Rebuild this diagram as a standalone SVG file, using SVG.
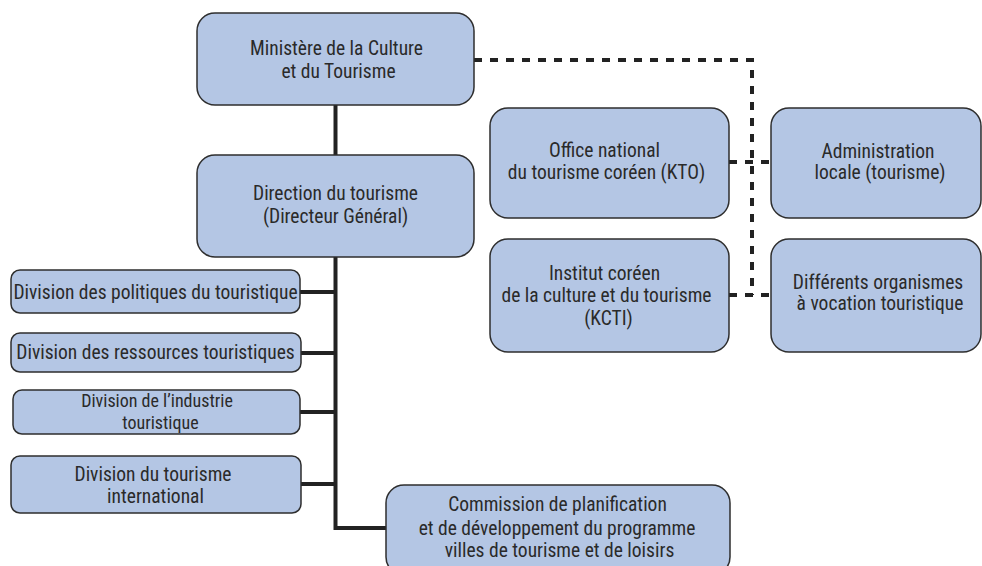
<svg xmlns="http://www.w3.org/2000/svg" width="982" height="566" viewBox="0 0 982 566">
  <style>
    .box { fill: #b4c6e4; stroke: #2e2e2e; stroke-width: 1.5; }
    .lbl { font-family: "Liberation Sans Narrow", "Roboto Condensed", "DejaVu Sans Condensed", "Liberation Sans", sans-serif; font-size: 19.5px; fill: #2a2a2a; text-anchor: middle; }
    .tight { font-size: 18px; }
    .solid { fill: none; stroke: #222; stroke-width: 4; }
    .dash { fill: none; stroke: #222; stroke-width: 4; stroke-dasharray: 8 8; }
  </style>
  <rect width="982" height="566" fill="#ffffff"/>

  <!-- connectors -->
  <g id="connectors">
    <path class="solid" d="M335.5 105 V155"/>
    <path class="solid" d="M335.5 257 V528 H386"/>
    <path class="solid" d="M300 292 H335.5"/>
    <path class="solid" d="M301 353 H335.5"/>
    <path class="solid" d="M300 412 H335.5"/>
    <path class="solid" d="M301 484 H335.5"/>
    <path class="dash" d="M474 60 H752 V295"/>
    <path class="dash" d="M729 162 H771"/>
    <path class="dash" d="M729 295 H771"/>
  </g>

  <!-- nodes -->
  <g id="ministere">
    <rect class="box" x="197" y="13" width="277" height="92" rx="18"/>
    <text class="lbl" x="336.5" y="55">Ministère de la Culture</text>
    <text class="lbl" x="338.5" y="78">et du Tourisme</text>
  </g>
  <g id="direction">
    <rect class="box" x="197" y="155" width="277" height="102" rx="18"/>
    <text class="lbl" x="335.5" y="200">Direction du tourisme</text>
    <text class="lbl" x="335.5" y="223">(Directeur Général)</text>
  </g>
  <g id="kto">
    <rect class="box" x="490" y="108" width="239" height="110" rx="18"/>
    <text class="lbl" x="604.5" y="157">Office national</text>
    <text class="lbl" x="606.5" y="179">du tourisme coréen (KTO)</text>
  </g>
  <g id="kcti">
    <rect class="box" x="490" y="239" width="239" height="113" rx="18"/>
    <text class="lbl" x="604.5" y="280">Institut coréen</text>
    <text class="lbl" x="606.5" y="302">de la culture et du tourisme</text>
    <text class="lbl" x="608.5" y="325">(KCTI)</text>
  </g>
  <g id="administration">
    <rect class="box" x="771" y="108" width="210" height="110" rx="18"/>
    <text class="lbl" x="878" y="158">Administration</text>
    <text class="lbl" x="880" y="179">locale (tourisme)</text>
  </g>
  <g id="organismes">
    <rect class="box" x="771" y="239" width="210" height="113" rx="18"/>
    <text class="lbl" x="878" y="289">Différents organismes</text>
    <text class="lbl" x="880" y="310">à vocation touristique</text>
  </g>
  <g id="div-politiques">
    <rect class="box" x="11" y="270" width="289" height="43" rx="9"/>
    <text class="lbl" x="155.5" y="299">Division des politiques du touristique</text>
  </g>
  <g id="div-ressources">
    <rect class="box" x="11" y="333" width="290" height="39" rx="9"/>
    <text class="lbl" x="155.5" y="359">Division des ressources touristiques</text>
  </g>
  <g id="div-industrie">
    <rect class="box" x="13" y="390" width="287" height="44" rx="9"/>
    <text class="lbl tight" x="157" y="407">Division de l’industrie</text>
    <text class="lbl tight" x="160.5" y="429">touristique</text>
  </g>
  <g id="div-international">
    <rect class="box" x="11" y="456" width="290" height="57" rx="9"/>
    <text class="lbl" x="153" y="481">Division du tourisme</text>
    <text class="lbl" x="155.5" y="503">international</text>
  </g>
  <g id="commission">
    <rect class="box" x="386" y="485" width="344" height="90" rx="18"/>
    <text class="lbl" x="557.5" y="511">Commission de planification</text>
    <text class="lbl" x="557" y="535">et de développement du programme</text>
    <text class="lbl" x="559.5" y="557">villes de tourisme et de loisirs</text>
  </g>
</svg>
